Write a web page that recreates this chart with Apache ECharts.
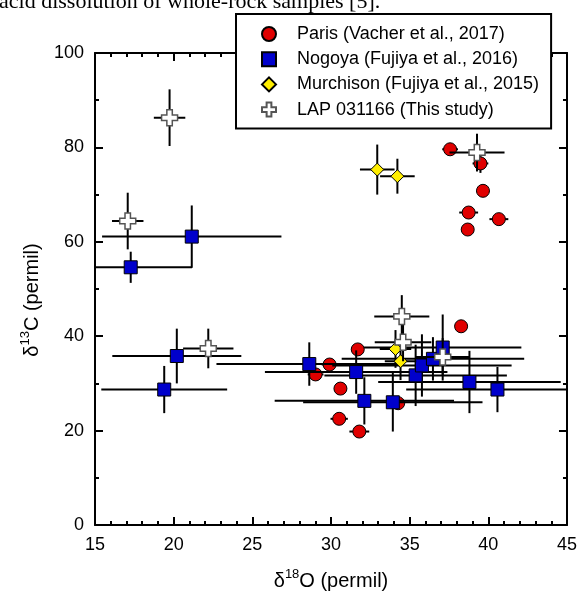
<!DOCTYPE html>
<html><head><meta charset="utf-8">
<script src="https://cdn.jsdelivr.net/npm/echarts@6/dist/echarts.min.js"></script>
<style>html,body{margin:0;padding:0;background:#fff;overflow:hidden}#c{width:580px;height:596px}</style>
</head><body><div id="c"></div>
<script>
// ---- data ----
const parisX    = [37.57, 39.50, 39.66, 38.75, 38.69, 40.67, 38.27, 31.70, 29.91, 29.02, 30.60, 34.27, 30.52, 31.80];
const parisY    = [79.6, 76.6, 70.8, 66.2, 62.6, 64.8, 42.1, 37.2, 34.0, 31.9, 28.9, 25.8, 22.5, 19.8];
const parisXErr = [0.5, 0.5, 0.4, 0.6, 0.4, 0.6, 0.4, 0.4, 0.5, 0.5, 0.4, 0.4, 0.55, 0.63];
const parisYErr = [1.2, 2.0, 1.0, 1.0, 1.0, 1.0, 1.0, 1.0, 1.0, 1.0, 1.0, 1.0, 1.0, 1.0];

const nogoyaX    = [17.27, 21.15, 20.20, 19.40, 28.62, 31.60, 32.12, 33.93, 35.38, 35.78, 36.48, 37.10, 38.80, 40.58];
const nogoyaY    = [54.6, 61.1, 35.8, 28.7, 34.1, 32.4, 26.3, 26.0, 31.7, 33.8, 35.2, 37.6, 30.3, 28.7];
const nogoyaXErr = [3.9, 5.7, 4.1, 4.0, 5.9, 5.8, 5.7, 5.7, 5.8, 5.7, 5.8, 5.0, 5.8, 5.8];
const nogoyaYErr = [3.3, 6.6, 5.8, 5.0, 4.6, 4.6, 5.0, 6.2, 6.5, 6.6, 4.6, 7.0, 6.6, 4.8];

const murchX    = [32.94, 34.22, 34.10, 34.42];
const murchY    = [75.3, 73.9, 37.3, 34.7];
const murchXErr = [1.1, 1.1, 1.0, 1.0];
const murchYErr = [5.3, 3.7, 4.0, 4.0];

const lapX    = [19.74, 17.08, 22.20, 34.50, 34.58, 37.10, 39.28];
const lapY    = [86.3, 64.4, 37.4, 44.2, 38.7, 35.6, 78.9];
const lapXErr = [1.0, 1.0, 1.6, 1.75, 1.8, 1.7, 1.75];
const lapYErr = [6.0, 6.0, 4.2, 4.5, 4.0, 4.0, 4.0];

const seriesNames = ['Paris (Vacher et al., 2017)', 'Nogoya (Fujiya et al., 2016)', 'Murchison (Fujiya et al., 2015)', 'LAP 031166 (This study)'];
const xTicks = {min: 15, max: 45, interval: 5};
const yTicks = {min: 0, max: 100, interval: 20};
const topText = 'acid dissolution of whole-rock samples [5].';

// ---- build ----
const FONT = "'Liberation Sans', Arial, sans-serif";
const plusPath = 'path://M3.3,0H6.7V3.3H10V6.7H6.7V10H3.3V6.7H0V3.3H3.3Z';
const squarePath = 'path://M0,0H10V10H0Z';
const diamondPath = 'path://M5,0L10,5L5,10L0,5Z';

function pts(xs, ys) { return xs.map((x, i) => [x, ys[i]]); }
function errs(xs, ys, xe, ye) { return xs.map((x, i) => [x, ys[i], xe[i], ye[i]]); }

function errRender(params, api) {
  const x = api.value(0), y = api.value(1), xe = api.value(2), ye = api.value(3);
  const cs = params.coordSys;
  const clampX = v => Math.max(cs.x, Math.min(cs.x + cs.width, v));
  const clampY = v => Math.max(cs.y, Math.min(cs.y + cs.height, v));
  const l = api.coord([x - xe, y]), r = api.coord([x + xe, y]);
  const t = api.coord([x, y + ye]), b = api.coord([x, y - ye]);
  const st = {stroke: '#000', lineWidth: 2};
  return {type: 'group', children: [
    {type: 'line', shape: {x1: clampX(l[0]), y1: l[1], x2: clampX(r[0]), y2: r[1]}, style: st},
    {type: 'line', shape: {x1: t[0], y1: clampY(t[1]), x2: b[0], y2: clampY(b[1])}, style: st}
  ]};
}

function errSeries(name, data, z) {
  return {type: 'custom', name: name + '_err', renderItem: errRender, data: data,
    encode: {x: 0, y: 1}, z: z, silent: true};
}

const axisLineStyle = {color: '#000', width: 2};
function mkAxis(extra, ticks, minorSplit, showLabel) {
  return Object.assign({
    type: 'value', min: ticks.min, max: ticks.max, interval: ticks.interval,
    axisLine: {show: true, onZero: false, lineStyle: axisLineStyle},
    axisTick: {show: true, inside: true, length: 8, lineStyle: axisLineStyle},
    minorTick: {show: true, splitNumber: minorSplit, length: 4, lineStyle: axisLineStyle},
    splitLine: {show: false}, minorSplitLine: {show: false},
    axisLabel: {show: showLabel, color: '#000', fontSize: 18, fontFamily: FONT, margin: 11}
  }, extra);
}

const nameRich = {
  a: {fontSize: 20, fontFamily: FONT, color: '#000', lineHeight: 26},
  s: {fontSize: 13, fontFamily: FONT, color: '#000', lineHeight: 13, verticalAlign: 'top'}
};

const chart = echarts.init(document.getElementById('c'), null, {renderer: 'canvas'});
chart.setOption({
  animation: false,
  backgroundColor: '#fff',
  grid: {left: 95, top: 53, width: 475, height: 473},
  xAxis: [
    mkAxis({position: 'bottom', name: '{a|δ}{s|18}{a|O (permil)}', nameLocation: 'middle', nameGap: 43,
      nameTextStyle: {rich: nameRich}}, xTicks, 5, true),
    mkAxis({position: 'top'}, xTicks, 5, false)
  ],
  yAxis: [
    mkAxis({position: 'left', name: '{a|δ}{s|13}{a|C (permil)}', nameLocation: 'middle', nameGap: 50,
      nameTextStyle: {rich: nameRich, padding: [0, 22, 0, 0]}}, yTicks, 2, true),
    mkAxis({position: 'right'}, yTicks, 2, false)
  ],
  legend: {
    orient: 'vertical', left: 236, top: 14,
    padding: [11, 12, 10, 25], itemGap: 7.2,
    itemWidth: 46, itemHeight: 14, symbolKeepAspect: true,
    backgroundColor: '#fff', borderColor: '#000', borderWidth: 2, borderRadius: 0,
    textStyle: {fontSize: 18, fontFamily: FONT, color: '#000'},
    data: [
      {name: seriesNames[0], icon: 'circle'},
      {name: seriesNames[1], icon: squarePath},
      {name: seriesNames[2], icon: diamondPath},
      {name: seriesNames[3], icon: plusPath}
    ],
    z: 20, selectedMode: false
  },
  graphic: [{
    type: 'text', left: -1, top: -9, z: 30,
    style: {text: topText, font: "22px 'Liberation Serif', 'Times New Roman', serif", fill: '#000'}
  }],
  series: [
    errSeries(seriesNames[0], errs(parisX, parisY, parisXErr, parisYErr), 2),
    {type: 'scatter', name: seriesNames[0], data: pts(parisX, parisY), symbol: 'circle', symbolSize: 13, z: 3,
      itemStyle: {color: '#e00000', borderColor: '#000', borderWidth: 1, opacity: 1}},
    errSeries(seriesNames[1], errs(nogoyaX, nogoyaY, nogoyaXErr, nogoyaYErr), 4),
    {type: 'scatter', name: seriesNames[1], data: pts(nogoyaX, nogoyaY), symbol: 'rect', symbolSize: 13, z: 5,
      itemStyle: {color: '#0000cc', borderColor: '#000', borderWidth: 1, opacity: 1}},
    errSeries(seriesNames[2], errs(murchX, murchY, murchXErr, murchYErr), 6),
    {type: 'scatter', name: seriesNames[2], data: pts(murchX, murchY), symbol: 'diamond', symbolSize: 13, z: 7,
      itemStyle: {color: '#ffee00', borderColor: '#000', borderWidth: 1, opacity: 1}},
    errSeries(seriesNames[3], errs(lapX, lapY, lapXErr, lapYErr), 8),
    {type: 'scatter', name: seriesNames[3], data: pts(lapX, lapY), symbol: plusPath, symbolSize: 16, z: 9,
      itemStyle: {color: '#fff', borderColor: '#555', borderWidth: 1.5, opacity: 1}}
  ]
});
</script></body></html>
